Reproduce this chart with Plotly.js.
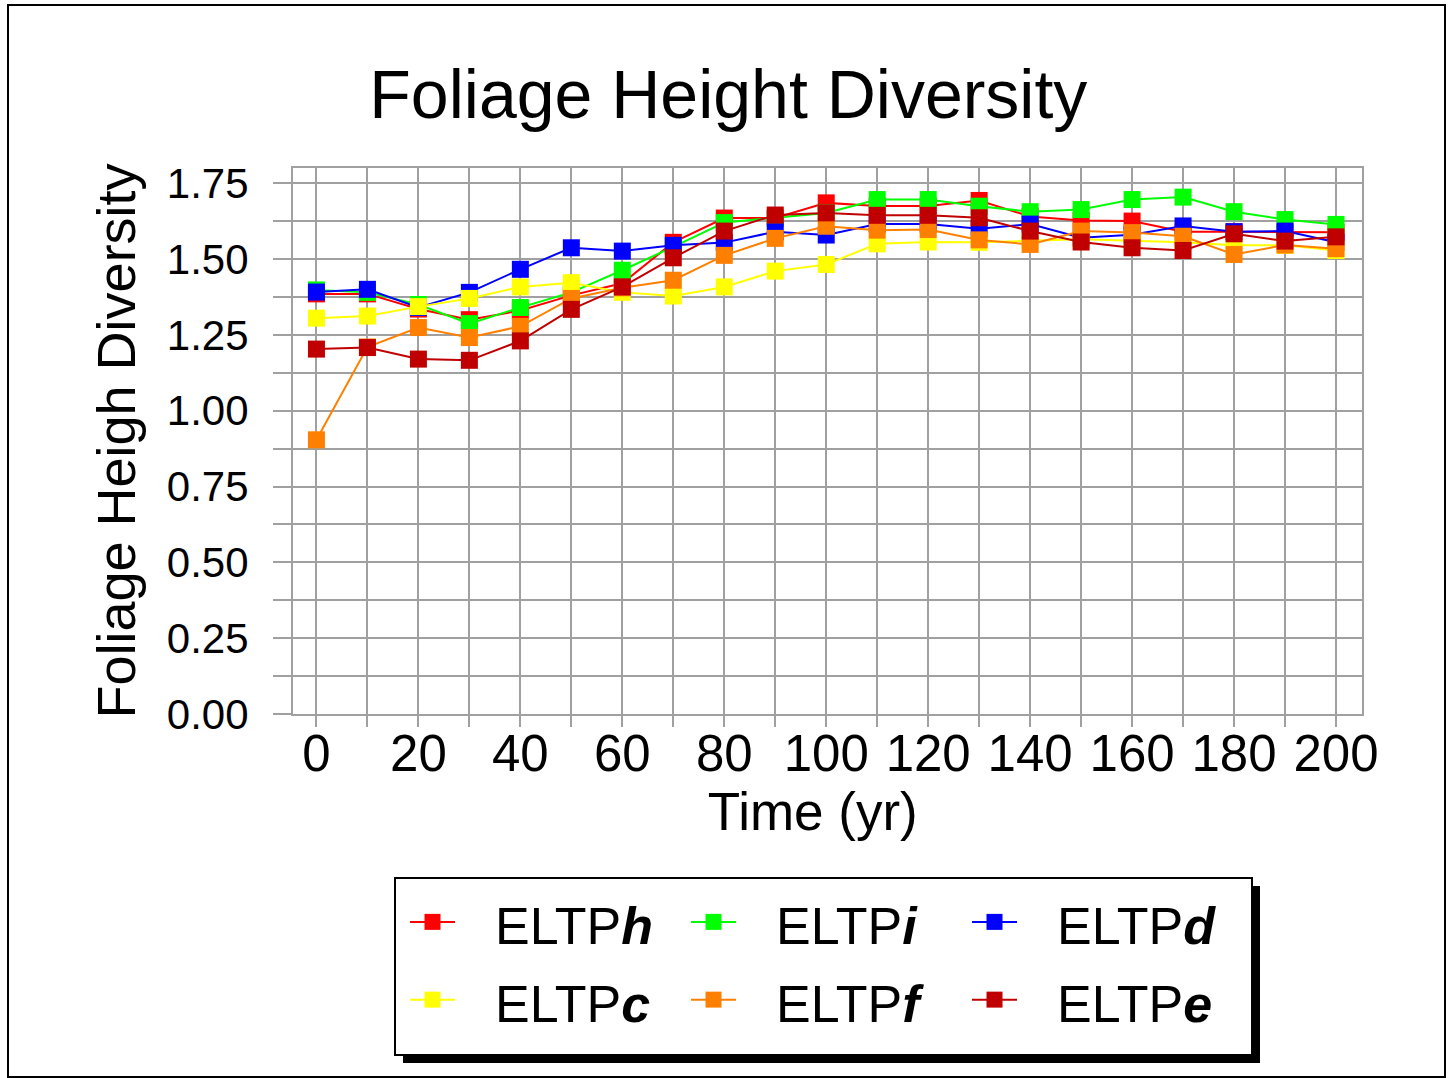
<!DOCTYPE html>
<html>
<head>
<meta charset="utf-8">
<script src="https://cdn.plot.ly/plotly-3.0.1.min.js"></script>
<style>
html,body{margin:0;padding:0;background:#fff;}
#chart{width:1448px;height:1078px;}
</style>
</head>
<body>
<div id="chart"></div>
<script>
// ---- data ----
var years = [0,10,20,30,40,50,60,70,80,90,100,110,120,130,140,150,160,170,180,190,200];

var eltpH = [1.385,1.385,1.335,1.300,1.330,1.380,1.420,1.555,1.635,1.635,1.685,1.675,1.675,1.693,1.640,1.627,1.625,1.590,1.590,1.588,1.588];
var eltpI = [1.398,1.390,1.350,1.287,1.340,1.390,1.463,1.540,1.620,1.635,1.652,1.696,1.696,1.674,1.656,1.663,1.696,1.704,1.656,1.630,1.614];
var eltpD = [1.391,1.400,1.340,1.390,1.466,1.537,1.526,1.545,1.554,1.590,1.579,1.615,1.615,1.600,1.615,1.570,1.580,1.609,1.590,1.592,1.555];
var eltpC = [1.305,1.312,1.343,1.370,1.408,1.422,1.390,1.378,1.408,1.460,1.482,1.550,1.556,1.555,1.560,1.565,1.560,1.555,1.545,1.545,1.528];
var eltpF = [0.904,1.210,1.274,1.241,1.278,1.370,1.405,1.430,1.512,1.568,1.608,1.595,1.597,1.563,1.548,1.592,1.587,1.575,1.515,1.546,1.534];
var eltpE = [1.203,1.208,1.170,1.166,1.230,1.334,1.408,1.504,1.592,1.645,1.652,1.644,1.644,1.636,1.592,1.556,1.537,1.528,1.583,1.559,1.573];

var seriesLetters = ['h','i','d','c','f','e'];
var seriesColors = ['#ff0000','#00ff00','#0000ff','#ffff00','#ff8000','#c00000'];

var xTickVals = [0,10,20,30,40,50,60,70,80,90,100,110,120,130,140,150,160,170,180,190,200];
var xTickText = ['0','','20','','40','','60','','80','','100','','120','','140','','160','','180','','200'];
var yTickVals = [0,0.125,0.25,0.375,0.5,0.625,0.75,0.875,1.0,1.125,1.25,1.375,1.5,1.625,1.75];
var yTickText = ['0.00','','0.25','','0.50','','0.75','','1.00','','1.25','','1.50','','1.75'];

var titleText = 'Foliage Height Diversity';
var xTitleText = 'Time (yr)';
var yTitleText = 'Foliage Heigh Diversity';

// ---- layout geometry ----
var W = 1448, H = 1078;
var M = {l:293, r:86, t:168, b:364};
var PW = W - M.l - M.r, PH = H - M.t - M.b;
function px(x){ return (x - M.l) / PW; }
function py(y){ return (H - M.b - y) / PH; }

var FONT = 'Liberation Sans, Arial, sans-serif';
var seriesValues = [eltpH, eltpI, eltpD, eltpC, eltpF, eltpE];

var traces = seriesValues.map(function(vals, i){
  return {
    x: years, y: vals, type: 'scatter', mode: 'lines+markers',
    name: '<span style="font-size:63px">&nbsp;&nbsp;</span><span style="font-size:52px">ELTP<b><i>' + seriesLetters[i] + '</i></b></span>',
    line: {color: seriesColors[i], width: 2},
    marker: {symbol: 'square', size: 17, color: seriesColors[i], line: {width: 0}}
  };
});

var layout = {
  width: W, height: H,
  margin: M,
  paper_bgcolor: '#ffffff', plot_bgcolor: '#ffffff',
  font: {family: FONT, color: '#000'},
  title: {text: titleText, font: {family: FONT, size: 68, color: '#000'},
          x: 0.503, xanchor: 'center', xref: 'container', y: 1 - 94/H, yanchor: 'middle', yref: 'container'},
  xaxis: {
    range: [-4.6, 205.1], tickmode: 'array', tickvals: xTickVals, ticktext: xTickText,
    showgrid: true, gridcolor: '#a0a0a0', gridwidth: 2,
    showline: true, linecolor: '#a0a0a0', linewidth: 2, mirror: true,
    ticks: 'outside', ticklen: 11, tickwidth: 2, tickcolor: '#a0a0a0',
    tickfont: {family: FONT, size: 51, color: '#000'}, ticklabelstandoff: -17,
    zeroline: false,
    title: {text: xTitleText + '<span style="font-size:53px">&nbsp;&nbsp;</span>', font: {family: FONT, size: 53, color: '#000'}, standoff: 6}
  },
  yaxis: {
    range: [0, 1.8], tickmode: 'array', tickvals: yTickVals, ticktext: yTickText,
    showgrid: true, gridcolor: '#a0a0a0', gridwidth: 2,
    showline: true, linecolor: '#a0a0a0', linewidth: 2, mirror: true,
    ticks: 'outside', ticklen: 18, tickwidth: 2, tickcolor: '#a0a0a0',
    tickfont: {family: FONT, size: 42, color: '#000'}, ticklabelstandoff: 16,
    zeroline: false,
    title: {text: yTitleText, font: {family: FONT, size: 54, color: '#000'}, standoff: 14}
  },
  showlegend: true,
  legend: {
    orientation: 'h', x: px(405), y: py(878), xanchor: 'left', yanchor: 'top',
    bgcolor: 'rgba(0,0,0,0)', borderwidth: 0,
    font: {family: FONT, size: 57.5, color: '#000'},
    entrywidth: 221, entrywidthmode: 'pixels', itemwidth: 45, traceorder: 'normal'
  },
  shapes: [
    {type: 'rect', xref: 'paper', yref: 'paper', x0: px(8), x1: px(1445), y0: py(1077), y1: py(5),
     line: {color: '#000', width: 2}, fillcolor: 'rgba(0,0,0,0)', layer: 'below'},
    {type: 'rect', xref: 'paper', yref: 'paper', x0: px(403), x1: px(1260), y0: py(1063), y1: py(886),
     line: {width: 0}, fillcolor: '#000', layer: 'above'},
    {type: 'rect', xref: 'paper', yref: 'paper', x0: px(395), x1: px(1252), y0: py(1055), y1: py(878),
     line: {color: '#000', width: 2}, fillcolor: '#fff', layer: 'above'}
  ]
};

Plotly.newPlot('chart', traces, layout, {displayModeBar: false, staticPlot: true});
</script>
</body>
</html>
